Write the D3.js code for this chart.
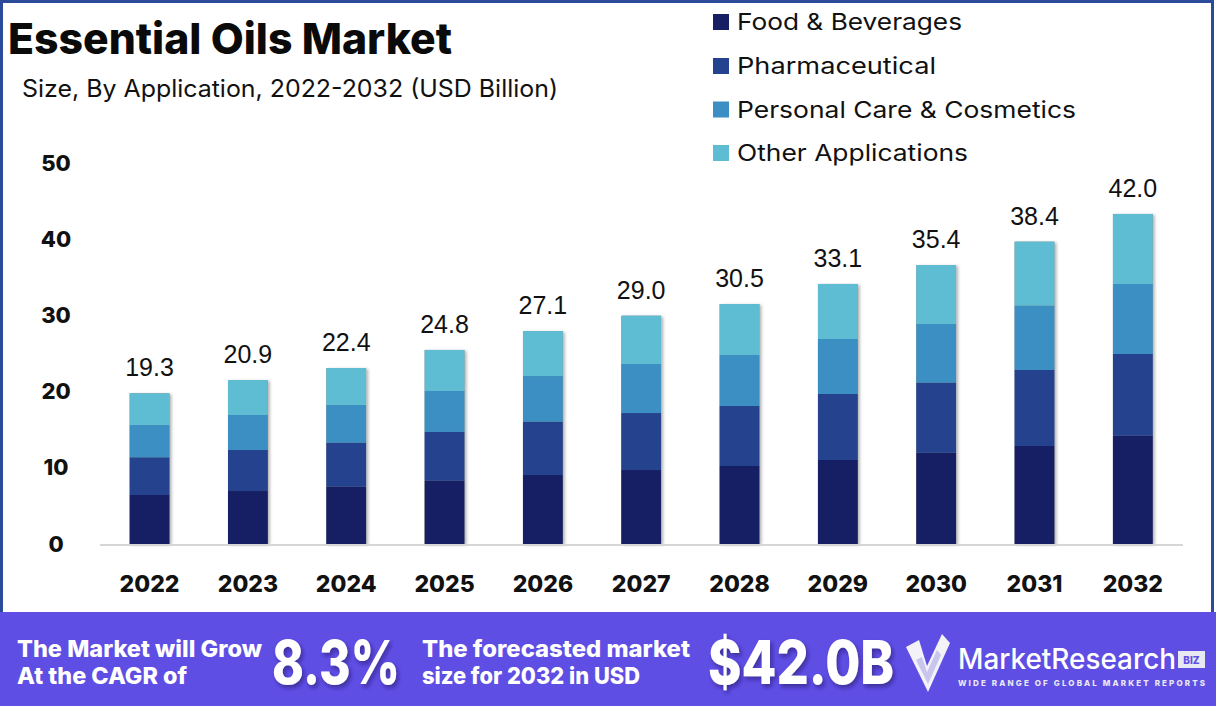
<!DOCTYPE html>
<html>
<head>
<meta charset="utf-8">
<script src="https://cdn.jsdelivr.net/npm/d3@7"></script>
<style>
  html, body { margin: 0; padding: 0; background: #ffffff; }
  svg { display: block; }
</style>
</head>
<body>
<svg id="chart" width="1216" height="709"></svg>
<script>
// ---------------- DATA ----------------
const years = ["2022","2023","2024","2025","2026","2027","2028","2029","2030","2031","2032"];
const foodBeverages   = [6.44, 6.96, 7.53, 8.32, 9.07, 9.72, 10.25, 11.04, 12.00, 12.88, 14.23];
const pharmaceutical  = [4.95, 5.39, 5.78, 6.40, 7.00, 7.49, 7.88, 8.67, 9.20, 9.99, 10.74];
const personalCare    = [4.24, 4.60, 4.95, 5.39, 6.00, 6.44, 6.70, 7.23, 7.71, 8.45, 9.20];
const otherApps       = [4.17, 4.60, 4.86, 5.39, 5.91, 6.35, 6.70, 7.23, 7.75, 8.41, 9.20];
const totalLabels     = ["19.3","20.9","22.4","24.8","27.1","29.0","30.5","33.1","35.4","38.4","42.0"];
const seriesNames     = ["Food & Beverages","Pharmaceutical","Personal Care & Cosmetics","Other Applications"];
const yTicks          = [0, 10, 20, 30, 40, 50];
const seriesColors    = ["#161f63", "#24428e", "#3c8fc2", "#5fbdd3"];

// -------------- BUILD TABLE --------------
const seriesKeys = ["food","pharma","personal","other"];
const table = years.map((y, i) => ({
  year: y, food: foodBeverages[i], pharma: pharmaceutical[i],
  personal: personalCare[i], other: otherApps[i], label: totalLabels[i]
}));
const stacked = d3.stack().keys(seriesKeys)(table);

const svg = d3.select("#chart");
const FONT = "Inter, 'Open Sans', 'DejaVu Sans', sans-serif";

// shadow filters
const defs = svg.append("defs");
const f = defs.append("filter").attr("id","barShadow")
  .attr("x","-20%").attr("y","-5%").attr("width","150%").attr("height","115%");
f.append("feDropShadow").attr("dx",2).attr("dy",1).attr("stdDeviation",1.6)
  .attr("flood-color","#000").attr("flood-opacity",0.3);
const f2 = defs.append("filter").attr("id","txtShadow")
  .attr("x","-10%").attr("y","-20%").attr("width","130%").attr("height","150%");
f2.append("feDropShadow").attr("dx",2).attr("dy",3).attr("stdDeviation",2)
  .attr("flood-color","#1a1060").attr("flood-opacity",0.55);

// outer border
svg.append("rect").attr("x",1.5).attr("y",1.5).attr("width",1211).attr("height",700)
  .attr("fill","#fff").attr("stroke","#2b4a9a").attr("stroke-width",3);

// -------------- SCALES --------------
const x = d3.scaleBand().domain(years).range([100.4, 1182]).paddingInner(0.595).paddingOuter(0.2975);
const y = d3.scaleLinear().domain([0, 50]).range([544, 163.5]);

// -------------- TITLE --------------
svg.append("text").attr("x", 8).attr("y", 54)
  .attr("font-family", FONT).attr("font-weight", 800).attr("font-size", 43)
  .attr("fill", "#0a0a0a").attr("textLength", 444).attr("lengthAdjust","spacingAndGlyphs")
  .text("Essential Oils Market");
svg.append("text").attr("x", 22).attr("y", 97)
  .attr("font-family", FONT).attr("font-weight", 400).attr("font-size", 24)
  .attr("fill", "#111").attr("textLength", 536).attr("lengthAdjust","spacingAndGlyphs")
  .text("Size, By Application, 2022-2032 (USD Billion)");

// -------------- LEGEND --------------
const legendY = [22, 66, 109.5, 153];
const legendW = [225, 199, 339, 231];
const lg = svg.append("g");
seriesNames.forEach((n, i) => {
  lg.append("rect").attr("x", 713).attr("y", legendY[i] - 8).attr("width", 16).attr("height", 16)
    .attr("fill", seriesColors[i]);
  lg.append("text").attr("x", 737).attr("y", legendY[i]).attr("dy", "0.35em")
    .attr("font-family", FONT).attr("font-size", 23).attr("fill", "#111")
    .attr("textLength", legendW[i]).attr("lengthAdjust","spacingAndGlyphs")
    .text(n);
});

// -------------- Y AXIS --------------
const yAxis = d3.axisLeft(y).tickValues(yTicks).tickSize(0).tickPadding(0);
const yg = svg.append("g").attr("transform", "translate(56,0)").call(yAxis);
yg.select(".domain").remove();
yg.selectAll("text").attr("text-anchor","middle").attr("x",0)
  .attr("font-family", FONT).attr("font-weight", 800).attr("font-size", 22).attr("fill", "#111");

// -------------- BARS --------------
const barG = svg.append("g");
// shadow behind full bars
barG.append("g").selectAll("rect").data(stacked[stacked.length-1]).join("rect")
  .attr("x", d => x(d.data.year)).attr("width", x.bandwidth())
  .attr("y", d => y(d[1])).attr("height", d => y(0) - y(d[1]))
  .attr("fill", "#888").attr("filter","url(#barShadow)");
stacked.forEach((layer, li) => {
  barG.append("g").attr("fill", seriesColors[li])
    .selectAll("rect").data(layer).join("rect")
    .attr("x", d => x(d.data.year))
    .attr("width", x.bandwidth())
    .attr("y", d => y(d[1]))
    .attr("height", d => y(d[0]) - y(d[1]));
});

// -------------- X AXIS --------------
svg.append("line").attr("x1", 100).attr("x2", 1183).attr("y1", 545).attr("y2", 545)
  .attr("stroke", "#d6d6d6").attr("stroke-width", 2);
const xAxis = d3.axisBottom(x).tickSize(0).tickPadding(0);
const xg = svg.append("g").attr("transform", "translate(0,584)").call(xAxis);
xg.select(".domain").remove();
xg.selectAll("text").attr("dy","0.35em")
  .attr("font-family", FONT).attr("font-weight", 800).attr("font-size", 23).attr("fill", "#111");

// -------------- TOTAL LABELS --------------
svg.append("g").selectAll("text").data(stacked[stacked.length-1]).join("text")
  .attr("x", d => x(d.data.year) + x.bandwidth()/2)
  .attr("y", d => y(d[1]) - 17)
  .attr("text-anchor","middle")
  .attr("font-family","'Liberation Sans', Arial, sans-serif").attr("font-size", 25)
  .attr("fill","#111")
  .text(d => d.data.label);

// -------------- BANNER --------------
const bn = svg.append("g");
bn.append("rect").attr("x", 0).attr("y", 612).attr("width", 1216).attr("height", 94).attr("fill", "#5f4ee4");
const bText = (t, xx, yy, size, w, weight) => bn.append("text").attr("x", xx).attr("y", yy)
  .attr("font-family", FONT).attr("font-weight", weight || 700).attr("font-size", size)
  .attr("fill", "#fff").attr("textLength", w).attr("lengthAdjust","spacingAndGlyphs").text(t);
bText("The Market will Grow", 17, 657, 23, 245, 800);
bText("At the CAGR of", 17, 684, 23, 170, 800);
bText("8.3%", 272, 684, 60, 128, 800).attr("filter","url(#txtShadow)");
bText("The forecasted market", 422, 657, 23, 268, 800);
bText("size for 2032 in USD", 422, 684, 23, 218, 800);
bText("$42.0B", 708, 684, 60, 186, 800).attr("filter","url(#txtShadow)");

// logo check icon
const ic = bn.append("g");
ic.append("path").attr("d","M906,647 L919,640 L927,666 L942,634 L950,643 L928,692 Z").attr("fill","#f2f2f7");
ic.append("path").attr("d","M916,660 L922,657 L927,672 L937,650 L941,655 L928,684 Z").attr("fill","#c9c6ee");
// logo text
bn.append("text").attr("x", 958).attr("y", 669)
  .attr("font-family", FONT).attr("font-weight", 500).attr("font-size", 29).attr("fill", "#fff")
  .attr("textLength", 218).attr("lengthAdjust","spacingAndGlyphs").text("MarketResearch");
bn.append("rect").attr("x", 1178).attr("y", 651).attr("width", 27).attr("height", 17).attr("fill","#e8e8f2");
bn.append("text").attr("x", 1191.5).attr("y", 663.5).attr("text-anchor","middle")
  .attr("font-family", FONT).attr("font-weight", 800).attr("font-size", 10).attr("fill", "#5f4ee4").text("BIZ");
bn.append("text").attr("x", 958).attr("y", 686)
  .attr("font-family", FONT).attr("font-weight", 800).attr("font-size", 8).attr("fill", "#e8e8f2")
  .attr("textLength", 247).attr("lengthAdjust","spacing").text("WIDE RANGE OF GLOBAL MARKET REPORTS");
</script>
</body>
</html>
